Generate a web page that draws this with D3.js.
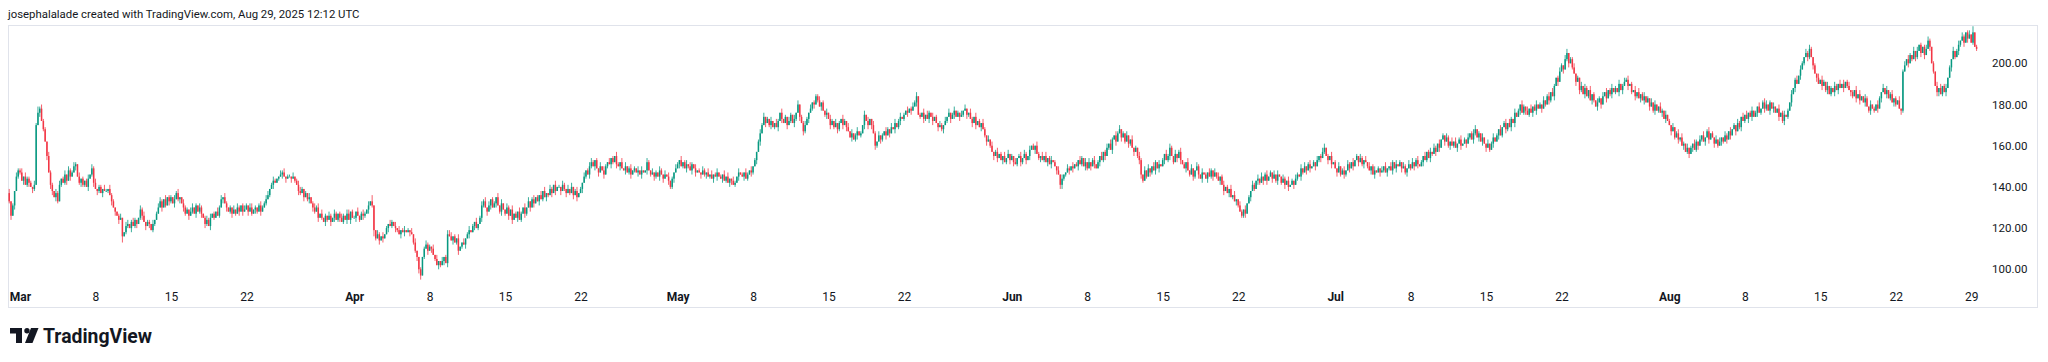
<!DOCTYPE html>
<html><head><meta charset="utf-8">
<script src="https://cdn.jsdelivr.net/npm/d3@7"></script>
<style>
html,body{margin:0;padding:0;background:#fff;}
svg{display:block;}
</style></head>
<body><svg id="c" width="2048" height="362"></svg>
<script>
// ---- DATA (4h candles, SOL/USD, Feb 28 2025 00:00 UTC onward) ----
const startTime = "2025-02-28T00:00:00Z";
const firstOpen = 137;
const closeFeb = [133,126,131,138,145,148];
const closeMar = [
147,143,145,141,144,142, 140,139,141,170,176,178, 172,168,162,155,147,141, 138,135,137,133,141,144,
142,146,143,148,145,147, 150,151,145,142,144,141, 143,140,144,146,149,142, 139,138,140,137,139,138,
138,139,136,133,130,128, 126,124,125,116,118,121, 122,120,123,121,124,122, 125,129,126,123,121,123,
122,119,122,124,127,130, 133,130,134,131,135,133, 135,132,134,137,134,135, 132,130,127,129,126,128,
130,127,131,128,130,127, 125,122,124,121,125,127, 125,128,126,130,134,135, 132,130,128,130,127,129,
127,130,128,131,128,129, 131,128,130,127,129,130, 128,131,128,130,132,134, 136,139,141,143,142,144,
145,146,147,145,144,145, 145,144,145,143,141,138, 137,139,135,137,134,135, 132,130,128,130,125,127,
125,123,126,124,126,123, 125,127,124,127,125,123, 126,124,127,124,128,125];
const closeApr = [
125,128,126,124,127,126, 127,129,131,133,131,119, 115,117,114,116,115,117, 120,122,121,123,121,120,
119,117,119,118,119,118, 119,118,117,113,109,106, 100,97,106,110,112,109, 111,110,107,105,102,104,
102,104,106,103,117,116, 114,116,113,115,109,111, 113,112,115,117,119,118, 121,123,120,122,125,131,
133,130,128,131,134,130, 132,135,131,128,132,129, 127,130,126,129,124,127, 125,128,124,127,130,127,
130,133,130,134,132,135, 133,136,134,138,135,137, 136,139,137,141,138,140, 140,138,141,139,137,139,
137,140,136,138,135,137, 139,142,145,148,146,150, 152,150,153,149,147,150, 148,146,150,152,151,154,
152,155,151,150,152,149, 148,150,147,149,146,148, 149,147,148,146,148,147, 148,152,148,146,147,145,
147,145,148,146,144,146, 145,143,140,144,147,149];
const closeMay = [
151,153,150,152,149,151, 150,148,151,149,147,148, 147,146,148,146,147,145, 146,144,146,145,147,145,
144,146,143,145,142,144, 143,141,142,145,147,146, 145,147,144,146,148,147, 150,153,157,162,166,170,
174,171,173,170,172,169, 171,169,172,176,173,171, 174,170,172,175,171,173, 176,180,174,171,167,170,
173,176,178,181,180,184, 182,179,181,177,175,176, 173,170,172,169,171,168, 171,173,170,172,169,167,
164,166,163,165,167,165, 166,170,175,172,170,173, 170,166,160,162,165,163, 165,167,165,168,166,169,
168,171,169,172,174,173, 175,177,176,178,177,179, 181,184,175,174,176,173, 175,173,176,174,172,174,
171,169,170,168,170,172, 174,176,173,175,177,174, 176,174,175,177,178,175, 176,173,171,174,170,172,
169,171,168,165,162,163, 160,157,155,157,154,156, 153,155,152,154,156,153];
const closeJun = [
155,152,151,154,155,152, 154,156,153,155,158,160, 158,160,156,154,155,153, 155,152,154,151,153,152,
150,148,146,141,144,146, 147,149,148,150,149,151, 150,153,151,154,150,152, 149,152,150,153,151,149,
152,155,153,157,155,159, 161,158,163,165,162,166, 168,164,166,162,165,161, 163,159,157,159,155,153,
146,143,148,145,149,147, 150,148,152,149,151,150, 153,156,153,155,159,155, 152,156,154,157,153,151,
149,152,148,146,149,145, 148,150,146,144,147,146, 144,147,145,148,145,147, 145,143,145,141,138,140,
137,139,135,136,133,134, 131,128,126,129,127,132, 135,138,141,139,143,144, 142,145,143,146,143,145,
147,144,146,143,146,145, 142,144,141,143,140,141, 143,141,144,146,145,149, 147,150,148,151,149,150,
152,150,153,155,154,157, 159,155,153,155,151,152];
const closeJul = [
149,147,150,146,148,146, 148,151,149,152,150,153, 155,152,154,151,153,152, 150,148,150,146,148,147,
149,147,148,150,147,149, 150,148,152,149,151,150, 152,149,150,147,149,151, 149,152,150,153,151,150,
152,155,153,157,154,157, 156,159,157,161,159,163, 165,162,164,160,162,160, 162,159,161,163,160,161,
163,161,164,166,163,166, 168,164,166,162,164,161, 159,161,158,161,164,162, 165,168,165,169,171,168,
171,169,173,171,176,174, 177,180,176,179,177,175, 178,176,179,177,180,178, 180,178,182,180,184,182,
186,184,189,193,191,196, 199,197,202,205,200,202, 198,195,191,193,187,189, 185,188,184,187,182,185,
182,179,181,183,180,184, 186,183,187,185,188,186, 188,186,190,187,189,191, 192,189,190,186,187,184,
186,183,185,182,184,181, 183,179,181,177,180,177, 179,176,177,173,175,172];
const closeAug = [
170,167,169,164,166,163, 164,160,161,157,159,156, 159,161,158,162,160,163, 165,162,164,167,163,166,
164,161,163,160,162,164, 162,165,163,167,165,168, 170,167,171,169,174,172, 175,173,176,174,177,174,
176,179,176,178,181,178, 180,177,181,178,179,176, 178,174,176,172,175,174, 177,181,185,188,192,190,
194,197,200,203,205,203, 207,203,199,195,193,190, 192,189,191,187,189,185, 188,186,189,187,190,188,
190,188,191,189,187,186, 184,187,183,185,182,184, 181,183,179,177,180,178, 177,180,178,183,186,188,
185,187,183,185,181,183, 180,182,178,177,196,199, 202,200,204,202,206,203, 206,209,205,208,204,207,
211,208,200,196,189,186, 188,185,189,186,188,193, 198,202,206,203,206,209, 211,213,210,215,212,214,
210,215,208,207];
// wick lengths beyond the body (price units), one digit per candle
const wickHiFeb = "201021";
const wickLoFeb = "120201";
const wickHiMar = "120211 102131 211021 102120 120211 210201 012021 201102 102110 012002 201210 021201 102012 210201 102120 021102 201021 012120 102120 210102 021012 102201 012112 201210 021201 102012 210102 012120 201021 021012 102201";
const wickLoMar = "102012 021002 010202 202101 012020 020121 102012 021020 010202 020301 102012 012020 201100 020102 102012 021020 102012 021020 100102 020120 102020 020102 102001 010200 102020 020102 102012 021020 102102 020120 102020";
const wickHiApr = "102012 102030 021020 102102 020120 102020 010121 102020 020122 201020 020120 102012 120201 102020 021020 102102 020120 102020 021020 102102 020120 102012 210102 021020 102102 020120 102020 021020 102102 020102";
const wickLoApr = "020102 102013 102020 020102 102020 020112 220102 020102 102020 020120 102020 020102 102020 020120 102020 020102 102020 020102 102020 020120 102020 020102 102020 020102 102020 020120 102020 020102 102020 021120";
const wickHiMay = "102012 021020 102102 020120 102020 021020 102102 010121 201020 021020 102102 020112 102011 120102 021020 102102 020120 102020 021020 102102 020120 102012 120102 021020 102102 020120 102020 021020 102102 020120 102020";
const wickLoMay = "020102 102020 020120 102020 020102 201020 020102 102020 020120 102020 020102 102021 020120 102012 020102 102020 020120 102020 202102 102020 020120 102020 020102 102020 020120 102020 020102 102020 020120 102020 020102";
const wickHiJun = "102012 021020 102102 020120 102020 021020 102102 020120 102012 021021 201020 020102 102020 021020 102121 020120 102020 021020 102102 020120 102020 021020 102102 020120 102020 021020 102102 020120 102012 201020";
const wickLoJun = "020102 102020 020120 102020 020221 102020 020102 102020 020120 102020 020102 102012 210102 102020 020120 102020 020102 102020 020120 102020 020102 101120 020102 102020 020120 102020 020102 102020 020120 102020";
const wickHiJul = "102012 021020 102102 020120 102020 021020 102102 020120 102012 021020 102102 020120 102012 201020 020120 102012 021020 102102 020120 102012 021012 102201 120102 021020 102102 020120 102012 120102 020120 102020 021020";
const wickLoJul = "020102 102020 020120 102020 020102 102020 020120 102020 020102 102020 020120 102020 020102 102020 201020 020102 102020 020120 102020 020102 102020 020120 102021 020102 102020 020120 102020 020102 102020 020120 102020";
const wickHiAug = "102012 021020 102102 020120 102020 021020 102102 020120 102012 201020 020120 102012 021021 210102 021020 102102 020120 102020 021020 102102 020120 102012 021020 201012 210102 020120 102012 021012 0301";
const wickLoAug = "020102 102012 020120 102020 020102 102020 020120 102020 020102 102020 020120 102020 020102 102020 020120 102020 020102 102020 020120 102020 020102 100210 020102 102020 020102 201020 020102 102020 0101";

const priceTicks = [100,120,140,160,180,200];
const timeTickDates = ["2025-03-01","2025-03-08","2025-03-15","2025-03-22","2025-04-01","2025-04-08","2025-04-15","2025-04-22",
  "2025-05-01","2025-05-08","2025-05-15","2025-05-22","2025-06-01","2025-06-08","2025-06-15","2025-06-22",
  "2025-07-01","2025-07-08","2025-07-15","2025-07-22","2025-08-01","2025-08-08","2025-08-15","2025-08-22","2025-08-29"];
const timeTickLabels = ["Mar","8","15","22","Apr","8","15","22","May","8","15","22","Jun","8","15","22","Jul","8","15","22","Aug","8","15","22","29"];
const headerText = "josephalalade created with TradingView.com, Aug 29, 2025 12:12 UTC";

// ---- BUILD ----
const closes = [].concat(closeFeb, closeMar, closeApr, closeMay, closeJun, closeJul, closeAug);
const parseW = s => s.replace(/\s+/g, "").split("").map(Number);
const wHi = [].concat(...[wickHiFeb,wickHiMar,wickHiApr,wickHiMay,wickHiJun,wickHiJul,wickHiAug].map(parseW));
const wLo = [].concat(...[wickLoFeb,wickLoMar,wickLoApr,wickLoMay,wickLoJun,wickLoJul,wickLoAug].map(parseW));
const t0 = new Date(startTime).getTime();
const candles = closes.map((c, i) => {
  const o = i === 0 ? firstOpen : closes[i - 1];
  return { t: new Date(t0 + i * 4 * 3600e3), o, c,
    h: Math.max(o, c) + (wHi[i] || 0), l: Math.min(o, c) - (wLo[i] || 0) };
});

const svg = d3.select("#c");
const font = "Roboto, 'Noto Sans', sans-serif";
const UP = "#089981", DN = "#f23645", TXT = "#131722";

const x = d3.scaleUtc().domain([Date.UTC(2025,2,1), Date.UTC(2025,7,29)]).range([20, 1971.2]);
const y = d3.scaleLinear().domain([100, 200]).range([269.3, 63.3]);

// frame
svg.append("rect").attr("x", 8.5).attr("y", 25.5).attr("width", 2029).attr("height", 282)
  .attr("fill", "none").attr("stroke", "#e0e3eb").attr("stroke-width", 1);

// header
const hdr = svg.append("text").attr("x", 8).attr("y", 18).attr("font-family", font)
  .attr("font-size", 11).attr("fill", TXT).text(headerText);
const hw = hdr.node().getComputedTextLength();
hdr.attr("font-size", 11 * 352 / hw);

// candles
const g = svg.append("g");
const bw = 1.5;
g.selectAll("line.w").data(candles).join("line").attr("class", "w")
  .attr("x1", d => x(d.t)).attr("x2", d => x(d.t))
  .attr("y1", d => y(d.h)).attr("y2", d => y(d.l))
  .attr("stroke", d => d.c >= d.o ? UP : DN).attr("stroke-width", 0.8);
g.selectAll("rect.b").data(candles).join("rect").attr("class", "b")
  .attr("x", d => x(d.t) - bw / 2).attr("width", bw)
  .attr("y", d => Math.min(y(d.o), y(d.c)))
  .attr("height", d => Math.max(0.8, Math.abs(y(d.o) - y(d.c))))
  .attr("fill", d => d.c >= d.o ? UP : DN);

// price axis
const ya = svg.append("g").attr("transform", "translate(1992,0)")
  .call(d3.axisRight(y).tickValues(priceTicks).tickFormat(d3.format(".2f")).tickSize(0).tickPadding(0));
ya.select(".domain").remove();
ya.selectAll("text").attr("font-family", font).attr("font-size", 11.5).attr("fill", TXT);

// time axis
const tDates = timeTickDates.map(s => new Date(s + "T00:00:00Z"));
const xa = svg.append("g")
  .call(d3.axisBottom(x).tickValues(tDates).tickFormat((d, i) => timeTickLabels[i]).tickSize(0).tickPadding(0));
xa.select(".domain").remove();
xa.selectAll("text").attr("y", 301).attr("dy", null)
  .attr("font-family", font).attr("font-size", 12).attr("fill", TXT)
  .attr("font-weight", (d, i) => /^[A-Z]/.test(timeTickLabels[i]) ? 700 : 400);

// TradingView logo
const lg = svg.append("g").attr("fill", TXT);
lg.append("path").attr("d", "M10,328 H22 V343 H16 V333.5 H10 Z");
lg.append("circle").attr("cx", 27).attr("cy", 330.8).attr("r", 2.7);
lg.append("path").attr("d", "M31,328 H38.5 L32.5,343 H25 Z");
const tv = svg.append("text").attr("x", 43).attr("y", 343).attr("font-family", font)
  .attr("font-size", 18).attr("font-weight", 700).attr("fill", TXT).text("TradingView");
const tw = tv.node().getComputedTextLength();
tv.attr("font-size", 18 * 109 / tw);
</script>
</body></html>
